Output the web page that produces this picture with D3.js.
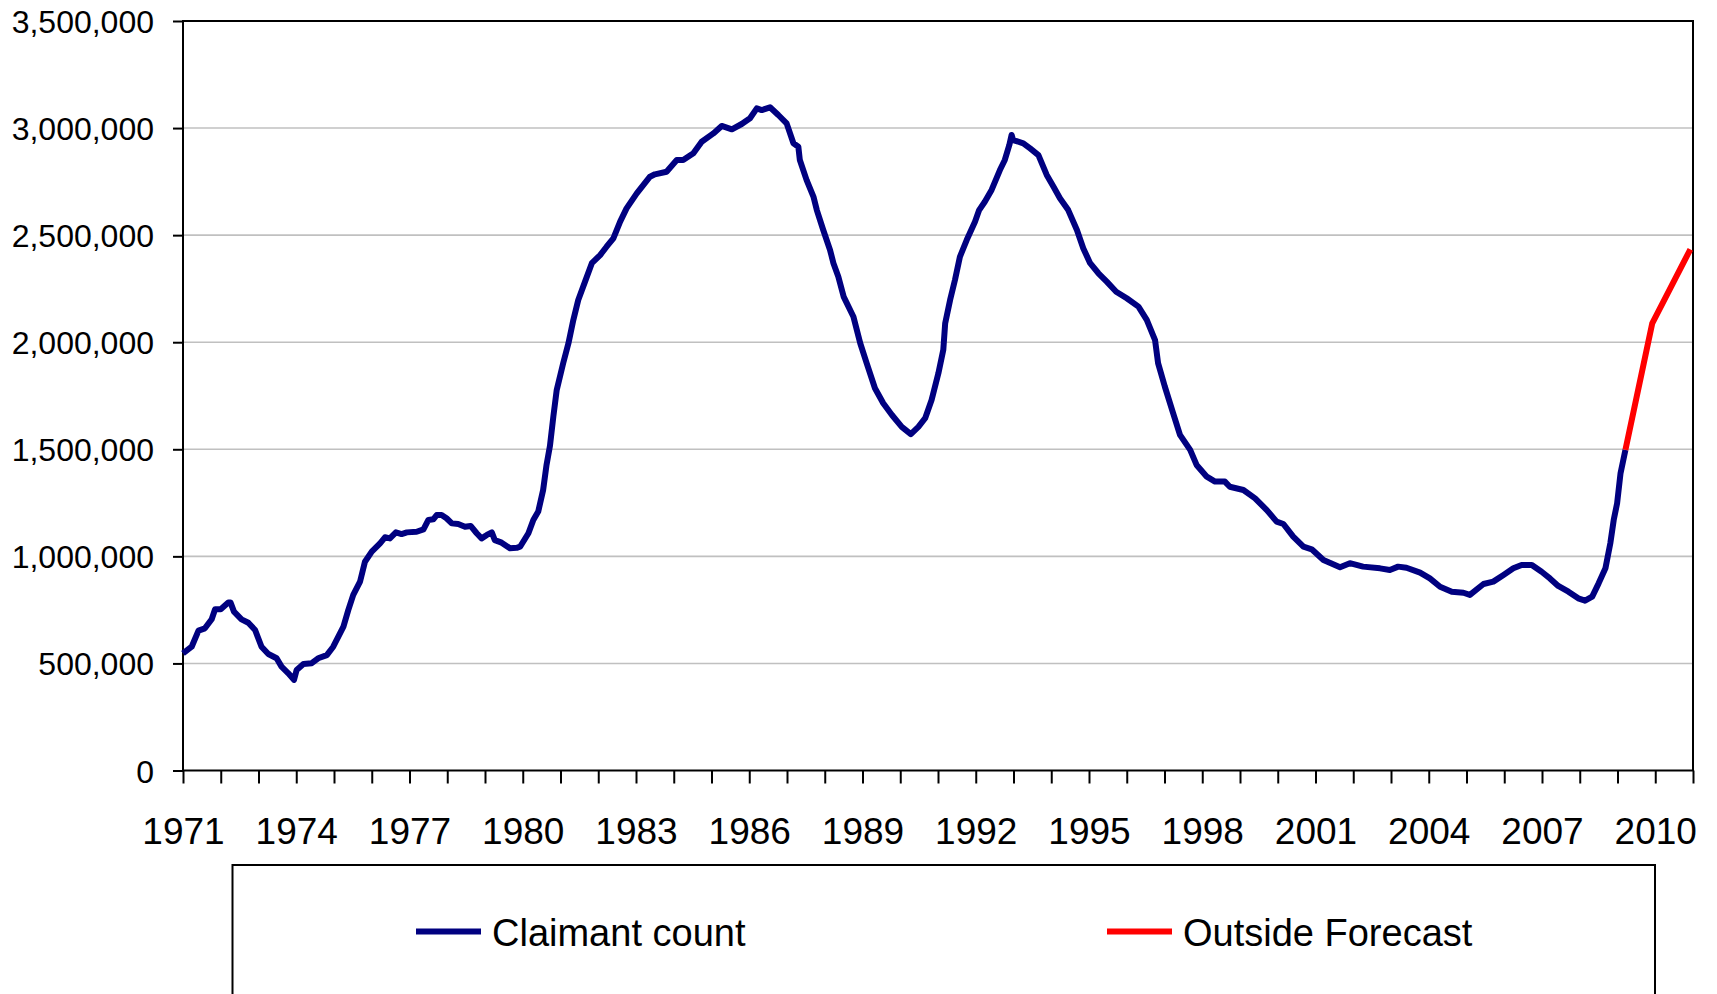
<!DOCTYPE html>
<html>
<head>
<meta charset="utf-8">
<script src="https://cdn.jsdelivr.net/npm/d3@7"></script>
<style>
  body { margin: 0; background: #fff; }
  text { font-family: "Liberation Sans", Arial, sans-serif; fill: #000; }
</style>
</head>
<body>
<svg id="chart" width="1717" height="994"></svg>
<script>
// Claimant count (decimal year, thousands)
var claimantYears = [
  1971.00, 1971.23, 1971.41, 1971.58, 1971.76, 1971.85, 1972.00, 1972.20, 1972.26, 1972.35,
  1972.55, 1972.73, 1972.91, 1973.08, 1973.26, 1973.48, 1973.61, 1973.79, 1973.94, 1974.01,
  1974.19, 1974.41, 1974.58, 1974.81, 1974.98, 1975.25, 1975.38, 1975.51, 1975.69, 1975.82,
  1976.00, 1976.22, 1976.35, 1976.48, 1976.64, 1976.79, 1976.93, 1977.19, 1977.37, 1977.50,
  1977.63, 1977.72, 1977.85, 1977.98, 1978.12, 1978.29, 1978.47, 1978.62, 1978.78, 1978.91,
  1979.05, 1979.18, 1979.26, 1979.44, 1979.66, 1979.84, 1979.93, 1980.15, 1980.28, 1980.41,
  1980.54, 1980.63, 1980.72, 1980.81, 1980.90, 1981.07, 1981.21, 1981.34, 1981.47, 1981.65,
  1981.83, 1982.05, 1982.22, 1982.40, 1982.58, 1982.75, 1983.02, 1983.37, 1983.50, 1983.81,
  1984.08, 1984.25, 1984.52, 1984.74, 1985.05, 1985.27, 1985.54, 1985.80, 1986.02, 1986.20,
  1986.33, 1986.55, 1986.77, 1986.99, 1987.17, 1987.30, 1987.34, 1987.52, 1987.70, 1987.79,
  1987.96, 1988.14, 1988.23, 1988.36, 1988.50, 1988.76, 1988.94, 1989.11, 1989.33, 1989.55,
  1989.78, 1990.04, 1990.28, 1990.48, 1990.66, 1990.83, 1991.01, 1991.14, 1991.19, 1991.32,
  1991.45, 1991.58, 1991.76, 1991.98, 1992.09, 1992.24, 1992.42, 1992.64, 1992.77, 1992.89,
  1992.95, 1992.99, 1993.26, 1993.44, 1993.66, 1993.88, 1994.06, 1994.23, 1994.45, 1994.68,
  1994.85, 1995.03, 1995.25, 1995.47, 1995.72, 1996.00, 1996.31, 1996.53, 1996.75, 1996.83,
  1997.01, 1997.23, 1997.41, 1997.68, 1997.85, 1998.12, 1998.34, 1998.60, 1998.73, 1999.09,
  1999.40, 1999.71, 1999.97, 2000.15, 2000.41, 2000.68, 2000.90, 2001.21, 2001.65, 2001.91,
  2002.26, 2002.71, 2002.97, 2003.19, 2003.41, 2003.77, 2004.03, 2004.30, 2004.61, 2004.92,
  2005.09, 2005.45, 2005.71, 2005.98, 2006.24, 2006.46, 2006.73, 2006.99, 2007.21, 2007.43,
  2007.70, 2007.96, 2008.14, 2008.33, 2008.50, 2008.68, 2008.81, 2008.90, 2008.99, 2009.08,
  2009.21
];
var claimantThousands = [
  547, 578, 653, 664, 706, 753, 753, 784, 784, 742,
  706, 690, 656, 578, 544, 524, 485, 454, 423, 469,
  497, 501, 524, 539, 578, 672, 750, 820, 882, 975,
  1022, 1061, 1089, 1084, 1112, 1104, 1112, 1115, 1126, 1170,
  1173, 1193, 1193, 1178, 1154, 1151, 1138, 1142, 1108, 1084,
  1100, 1112, 1076, 1064, 1038, 1040, 1045, 1108, 1170, 1209,
  1310, 1427, 1515, 1652, 1777, 1901, 1995, 2104, 2197, 2283,
  2369, 2407, 2446, 2485, 2563, 2625, 2695, 2773, 2784, 2796,
  2851, 2851, 2882, 2936, 2975, 3010, 2994, 3019, 3046, 3092,
  3084, 3097, 3061, 3022, 2929, 2913, 2851, 2757, 2680, 2617,
  2524, 2431, 2369, 2306, 2213, 2119, 1995, 1902, 1785, 1715,
  1660, 1605, 1571, 1605, 1645, 1730, 1855, 1964, 2088, 2197,
  2291, 2399, 2477, 2563, 2617, 2656, 2711, 2804, 2851, 2921,
  2968, 2944, 2929, 2905, 2874, 2781, 2726, 2672, 2617, 2524,
  2438, 2369, 2322, 2283, 2236, 2205, 2166, 2104, 2010, 1902,
  1792, 1668, 1567, 1497, 1427, 1372, 1349, 1349, 1325, 1310,
  1271, 1216, 1162, 1151, 1092, 1045, 1033, 983, 949, 968,
  952, 944, 936, 952, 947, 924, 897, 858, 835, 830,
  820, 871, 882, 913, 944, 960, 960, 928, 897, 862,
  835, 804, 793, 812, 874, 944, 1061, 1170, 1248, 1388,
  1497
];

// Outside forecast (starts where the claimant count ends)
var forecastYears = [2009.21, 2009.92, 2010.93];
var forecastThousands = [1497, 2088, 2434];

var yTicks = [0, 500000, 1000000, 1500000, 2000000, 2500000, 3000000, 3500000];
var xLabelYears = [1971, 1974, 1977, 1980, 1983, 1986, 1989, 1992, 1995, 1998, 2001, 2004, 2007, 2010];

var legendItems = [
  { name: "Claimant count", color: "#000080" },
  { name: "Outside Forecast", color: "#ff0000" }
];

var plotLeft = 183, plotRight = 1693, plotTop = 21, plotBottom = 770.5;

var svg = d3.select("#chart");

svg.append("rect")
    .attr("width", 1717)
    .attr("height", 994)
    .attr("fill", "#fff");

var x = d3.scaleLinear().domain([1971, 2011]).range([plotLeft, plotRight]);
var y = d3.scaleLinear().domain([0, 3500000]).range([plotBottom, plotTop]);

// gridlines
svg.append("g")
    .selectAll("line")
    .data(yTicks.slice(1, -1))
    .enter()
    .append("line")
    .attr("x1", plotLeft)
    .attr("x2", plotRight)
    .attr("y1", function (d) { return y(d); })
    .attr("y2", function (d) { return y(d); })
    .attr("stroke", "#c0c0c0")
    .attr("stroke-width", 1.6);

// y axis
var yAxis = svg.append("g")
    .attr("transform", "translate(" + plotLeft + ",0)")
    .call(d3.axisLeft(y).tickValues(yTicks).tickSize(10).tickPadding(19).tickFormat(d3.format(",")));

yAxis.select(".domain").remove();
yAxis.selectAll("line").attr("stroke", "#000").attr("stroke-width", 2);
yAxis.selectAll("text")
    .attr("font-size", 32)
    .attr("font-family", "Liberation Sans, Arial, sans-serif")
    .attr("dy", "0.36em");

// x axis, a tick for every year
var xAxis = svg.append("g")
    .attr("transform", "translate(0," + plotBottom + ")")
    .call(d3.axisBottom(x)
        .tickValues(d3.range(1971, 2012))
        .tickSize(13)
        .tickPadding(34)
        .tickFormat(function (d) { return xLabelYears.indexOf(d) >= 0 ? String(d) : ""; }));

xAxis.select(".domain").remove();
xAxis.selectAll("line").attr("stroke", "#000").attr("stroke-width", 2);
xAxis.selectAll("text")
    .attr("font-size", 37)
    .attr("font-family", "Liberation Sans, Arial, sans-serif");

// plot frame
svg.append("rect")
    .attr("x", plotLeft)
    .attr("y", plotTop)
    .attr("width", plotRight - plotLeft)
    .attr("height", plotBottom - plotTop)
    .attr("fill", "none")
    .attr("stroke", "#000")
    .attr("stroke-width", 2);

var line = d3.line()
    .x(function (d) { return x(d[0]); })
    .y(function (d) { return y(d[1] * 1000); });

var claimant = claimantYears.map(function (d, i) { return [d, claimantThousands[i]]; });
var forecast = forecastYears.map(function (d, i) { return [d, forecastThousands[i]]; });

svg.append("path")
    .datum(claimant)
    .attr("d", line)
    .attr("fill", "none")
    .attr("stroke", legendItems[0].color)
    .attr("stroke-width", 6)
    .attr("stroke-linejoin", "round");

svg.append("path")
    .datum(forecast)
    .attr("d", line)
    .attr("fill", "none")
    .attr("stroke", legendItems[1].color)
    .attr("stroke-width", 6)
    .attr("stroke-linejoin", "round");

// legend
svg.append("rect")
    .attr("x", 232.5)
    .attr("y", 865)
    .attr("width", 1655 - 232.5)
    .attr("height", 160)
    .attr("fill", "#fff")
    .attr("stroke", "#000")
    .attr("stroke-width", 2);

var legendX = [416, 1107];

legendItems.forEach(function (d, i) {
    svg.append("line")
        .attr("x1", legendX[i])
        .attr("x2", legendX[i] + 65)
        .attr("y1", 931.5)
        .attr("y2", 931.5)
        .attr("stroke", d.color)
        .attr("stroke-width", 6);

    svg.append("text")
        .attr("x", legendX[i] + 76)
        .attr("y", 946)
        .attr("font-size", 38)
        .text(d.name);
});
</script>
</body>
</html>
